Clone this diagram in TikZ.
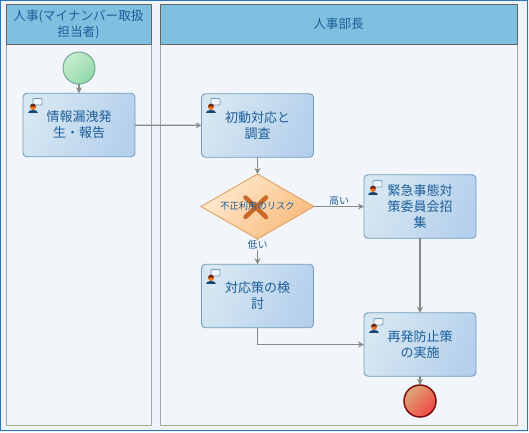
\documentclass[tikz,border=0pt]{standalone}
\usepackage{fontspec}
\setmainfont{Noto Sans CJK JP}
\usetikzlibrary{arrows.meta,shapes.geometric}
\definecolor{txt}{HTML}{1B5E9A}
\definecolor{edgeb}{HTML}{6F9DBD}
\definecolor{lanegray}{HTML}{A3A8A6}
\definecolor{flow}{HTML}{858C86}
\definecolor{lanebg}{HTML}{F2F6FA}
\definecolor{framebg}{HTML}{EDF3F9}
\definecolor{framec}{HTML}{2B74B5}
\definecolor{laneh}{HTML}{7FBFE0}
\definecolor{taskl}{HTML}{D6E7F1}
\definecolor{taskr}{HTML}{B6D0EC}
\definecolor{gateb}{HTML}{E0A060}
\definecolor{gatel}{HTML}{FFEBD0}
\definecolor{gater}{HTML}{F8BA7C}
\definecolor{startb}{HTML}{6FA795}
\definecolor{startl}{HTML}{C8ECCE}
\definecolor{startr}{HTML}{90DAAA}
\definecolor{endb}{HTML}{7E0E0E}
\definecolor{endl}{HTML}{DDA878}
\definecolor{endr}{HTML}{F04844}
\definecolor{crossc}{HTML}{CB6A28}
\definecolor{headc}{HTML}{E8701E}
\definecolor{hairc}{HTML}{6A2A14}
\tikzset{
  x=1pt,y=-1pt,
  lanebody/.style={draw=lanegray,line width=1pt,fill=lanebg,inner sep=0,outer sep=0,anchor=north west},
  lanehead/.style={draw=lanegray!60!black,line width=.8pt,fill=laneh,text=txt,inner sep=0,outer sep=0,anchor=north west,align=center,font=\fontsize{12.6}{16}\selectfont},
  tasknode/.style={draw=edgeb,line width=.9pt,rounded corners=4pt,left color=taskl,right color=taskr,shading angle=65,text=txt,inner sep=0,outer sep=0,minimum width=112pt,minimum height=63.5pt,align=center,font=\fontsize{13}{16}\selectfont},
  gatewaynode/.style={diamond,aspect=1.74,draw=gateb,line width=.9pt,left color=gatel,right color=gater,shading angle=45,inner sep=0,outer sep=0,minimum width=113pt,minimum height=65pt},
  startnode/.style={circle,draw=startb,line width=1pt,left color=startl,right color=startr,shading angle=45,inner sep=0,outer sep=0,minimum size=32pt},
  endnode/.style={circle,draw=endb,line width=1.5pt,inner sep=0,outer sep=0,minimum size=32pt,left color=endl,right color=endr,shading angle=45},
  flowline/.style={draw=flow,line width=1.3pt,-{Stealth[length=6pt,width=6pt,inset=2pt]}},
  flowlabel/.style={text=txt,inner sep=.5pt,font=\fontsize{10}{11}\selectfont},
}
\newcommand{\usericon}[2]{%
  \begin{scope}[shift={(#1,#2)}]
    \fill[lanebg,draw=edgeb,line width=.8pt,rounded corners=1pt] (4,-2.5) rectangle (13,4);
    \fill[txt!75!black] (-1,12) .. controls (-1,8) and (9,8) .. (9,12) -- cycle;
    \fill[headc] (4,6) circle (3pt);
    \fill[hairc] (1,5.6) arc (180:0:3pt) -- cycle;
  \end{scope}}
\begin{document}
\begin{tikzpicture}
\useasboundingbox (0,0) rectangle (529,432);
\fill[framebg] (0,0) rectangle (529,432);
\draw[draw=framec,line width=1.4pt] (.7,.7) rectangle (527.5,430.5);
% lanes
\node[lanebody,minimum width=145pt,minimum height=421pt] (lane1) at (6,4) {};
\node[lanebody,minimum width=357pt,minimum height=421pt] (lane2) at (160,4) {};
\node[lanehead,minimum width=145pt,minimum height=40pt] (head1) at (6,4) {人事(マイナンバー取扱\\担当者)};
\node[lanehead,minimum width=357pt,minimum height=40pt] (head2) at (160,4) {人事部長};
% nodes
\node[startnode] (start) at (79,68) {};
\node[tasknode] (t1) at (79,125) {情報漏洩発\\生・報告};
\node[tasknode] (t2) at (257.5,125.5) {初動対応と\\調査};
\node[gatewaynode] (gw) at (257.5,206.5) {};
\draw[line width=4.5pt,draw=crossc,line cap=round] (245.5,197.5) -- (266,217) (245.5,217) -- (266,197.5);
\node[text=txt,inner sep=0,font=\fontsize{9.3}{11}\selectfont] (gwtext) at (257.5,206.5) {不正利用のリスク};
\node[tasknode] (t3) at (420,206.5) {緊急事態対\\策委員会招\\集};
\node[tasknode] (t4) at (257.5,296) {対応策の検\\討};
\node[tasknode] (t5) at (420,344.5) {再発防止策\\の実施};
\node[endnode] (stop) at (420,401) {};
% icons
\usericon{29}{101}
\usericon{207}{101}
\usericon{369}{183}
\usericon{207}{272}
\usericon{370}{321}
% connectors
\draw[flowline] (start) -- (t1);
\draw[flowline] (t1) -- (t2);
\draw[flowline] (t2) -- (gw);
\draw[flowline] (gw) -- node[flowlabel,pos=.5,above=0pt] (lhigh) {高い} (t3);
\draw[flowline] (gw) -- node[flowlabel,pos=.24,fill=lanebg] (llow) {低い} (t4);
\draw[flowline] (t3) -- (t5);
\draw[flowline] (t4.south) |- (t5.west);
\draw[flowline] (t5) -- (stop);
\end{tikzpicture}
\end{document}
